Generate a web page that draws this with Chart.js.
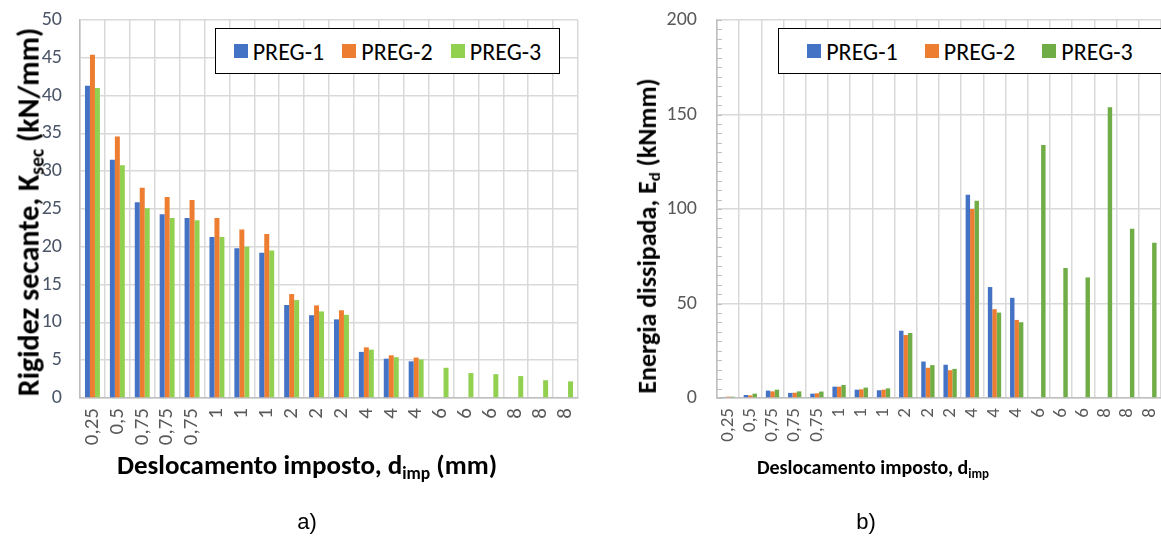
<!DOCTYPE html>
<html>
<head>
<meta charset="utf-8">
<script src="https://cdn.jsdelivr.net/npm/chart.js@4"></script>
<style>
  html, body { margin: 0; padding: 0; background: #fff; }
  #wrap { position: relative; width: 1161px; height: 537px; overflow: hidden; background: #fff; }
  canvas { position: absolute; top: 0; }
  .ttl { position: absolute; font-family: Carlito, Calibri, Lato, sans-serif; font-weight: bold; color: #000; white-space: nowrap; }
  .ttl sub { font-size: 65%; vertical-align: -0.25em; }
  .rot { transform: translate(-50%, -50%) rotate(-90deg); }
  .hor { transform: translate(-50%, -50%); }
  .cap { position: absolute; font-family: "Liberation Sans", Arial, sans-serif; font-size: 22px; color: #000; transform: translate(-50%, -50%); }
  .legend { position: absolute; background: #fff; border: 1.5px solid #000; box-sizing: border-box;
            display: flex; align-items: center; justify-content: center;
            font-family: Carlito, Calibri, Lato, sans-serif; font-size: 24px; color: #000; }
  .legend .item { display: flex; align-items: center; gap: 5px; }
  .legend .sw { width: 14px; height: 14px; display: inline-block; }
</style>
</head>
<body>
<div id="wrap">
  <canvas id="ksec" width="600" height="537" style="left:0;width:600px;height:537px"></canvas>
  <canvas id="ed" width="581" height="537" style="left:600px;width:581px;height:537px"></canvas>

  <div class="ttl rot" style="left:29px;top:212px;font-size:30px">Rigidez secante, K<sub>sec</sub> (kN/mm)</div>
  <div class="ttl hor" style="left:307px;top:466px;font-size:27px">Deslocamento imposto, d<sub>imp</sub> (mm)</div>
  <div class="cap" style="left:307px;top:522px">a)</div>

  <div class="ttl rot" style="left:648px;top:236px;font-size:26px">Energia dissipada, E<sub>d</sub> (kNmm)</div>
  <div class="ttl hor" style="left:873px;top:468px;font-size:20px">Deslocamento imposto, d<sub>imp</sub></div>
  <div class="cap" style="left:866px;top:522px">b)</div>

  <div id="legKsec" class="legend" style="left:215px;top:28px;width:345px;height:46px;gap:18px"></div>
  <div id="legEd" class="legend" style="left:778px;top:28px;width:384px;height:46px;gap:27px"></div>
</div>

<script>
// Imposed displacement steps (mm), three cycles per level after 0,5
const displacements = ['0,25', '0,5', '0,75', '0,75', '0,75', '1', '1', '1', '2', '2', '2',
                       '4', '4', '4', '6', '6', '6', '8', '8', '8'];
const seriesNames = ['PREG-1', 'PREG-2', 'PREG-3'];

// Secant stiffness K_sec (kN/mm)
const ksecPreg1 = [41.3, 31.5, 25.9, 24.3, 23.8, 21.3, 19.8, 19.2, 12.3, 10.95, 10.4, 6.1, 5.2, 4.85,
                   null, null, null, null, null, null];
const ksecPreg2 = [45.4, 34.6, 27.8, 26.6, 26.2, 23.8, 22.3, 21.7, 13.75, 12.25, 11.6, 6.7, 5.65, 5.35,
                   null, null, null, null, null, null];
const ksecPreg3 = [41.0, 30.8, 25.1, 23.8, 23.5, 21.3, 20.0, 19.5, 12.95, 11.45, 11.0, 6.4, 5.4, 5.1,
                   4.0, 3.3, 3.15, 2.9, 2.35, 2.2];

// Dissipated energy E_d (kNmm)
const edPreg1 = [0.3, 1.6, 3.9, 2.7, 2.3, 6.0, 4.4, 4.1, 35.6, 19.3, 17.6, 107.5, 58.7, 53.0,
                 null, null, null, null, null, null];
const edPreg2 = [0.7, 1.4, 3.5, 2.8, 2.5, 6.0, 4.6, 4.4, 33.3, 16.0, 14.7, 100.0, 47.0, 41.3,
                 null, null, null, null, null, null];
const edPreg3 = [0.7, 2.3, 4.4, 3.5, 3.4, 6.9, 5.5, 5.1, 34.4, 17.4, 15.4, 104.4, 45.2, 40.1,
                 133.9, 68.8, 63.8, 153.9, 89.6, 82.1];

const ksecColors = ['#4472C4', '#ED7D31', '#92D050'];
const edColors = ['#4472C4', '#ED7D31', '#70AD47'];

const FONT = 'Carlito, Calibri, Lato, sans-serif';
const GRID = '#d9d9d9';
const AXIS = '#bfbfbf';

function datasets(values, colors) {
  return values.map((v, i) => ({
    label: seriesNames[i],
    data: v,
    backgroundColor: colors[i],
    borderWidth: 0,
    categoryPercentage: 0.6,
    barPercentage: 1.0
  }));
}

// Short inside tick marks on the value axis (every 5 kNmm)
const minorTicks = {
  id: 'minorTicks',
  afterDatasetsDraw(chart, args, opts) {
    if (!opts || !opts.step) return;
    const y = chart.scales.y;
    const ctx = chart.ctx;
    ctx.save();
    ctx.strokeStyle = AXIS;
    ctx.lineWidth = 1;
    for (let v = y.min; v <= y.max + 1e-9; v += opts.step) {
      const py = Math.round(y.getPixelForValue(v)) + 0.5;
      ctx.beginPath();
      ctx.moveTo(chart.chartArea.left, py);
      ctx.lineTo(chart.chartArea.left + 5, py);
      ctx.stroke();
    }
    ctx.restore();
  }
};

function makeChart(id, values, colors, o) {
  return new Chart(document.getElementById(id), {
    type: 'bar',
    data: { labels: displacements, datasets: datasets(values, colors) },
    plugins: [minorTicks],
    options: {
      responsive: false,
      animation: false,
      devicePixelRatio: 1,
      layout: { padding: { top: 20, right: o.padRight, left: 0, bottom: 0 } },
      plugins: {
        legend: { display: false },
        tooltip: { enabled: false },
        minorTicks: { step: o.minorStep }
      },
      scales: {
        x: {
          grid: { color: GRID, lineWidth: 1.5, offset: true, drawTicks: true, tickLength: 10, tickColor: 'rgba(0,0,0,0)' },
          border: { color: AXIS, width: 1.5 },
          ticks: { color: '#595959', font: { family: FONT, size: o.xFont }, minRotation: 90, maxRotation: 90,
                   autoSkip: false, padding: 0 },
          afterFit(s) { s.height = 139; }
        },
        y: {
          min: 0, max: o.yMax,
          grid: { color: GRID, lineWidth: 1.5, drawTicks: true, tickLength: o.yPad, tickColor: 'rgba(0,0,0,0)' },
          border: { color: AXIS, width: 1.5 },
          ticks: { stepSize: o.yStep, color: o.tickColor, font: { family: FONT, size: o.yFont }, padding: 0 },
          afterFit(s) { s.width = o.yWidth; }
        }
      }
    }
  });
}

const chartK = makeChart('ksec', [ksecPreg1, ksecPreg2, ksecPreg3], ksecColors,
  { yMax: 50, yStep: 5, yWidth: 80, padRight: 22, tickColor: '#4a5568', minorStep: 0, xFont: 21, yFont: 20, yPad: 18 });
const chartE = makeChart('ed', [edPreg1, edPreg2, edPreg3], edColors,
  { yMax: 200, yStep: 50, yWidth: 117, padRight: 20, tickColor: '#595959', minorStep: 5, xFont: 19, yFont: 20, yPad: 20 });

// Boxed legends built from each chart's datasets
function buildLegend(el, chart) {
  chart.data.datasets.forEach(ds => {
    const item = document.createElement('span');
    item.className = 'item';
    const sw = document.createElement('span');
    sw.className = 'sw';
    sw.style.background = ds.backgroundColor;
    const t = document.createElement('span');
    t.textContent = ds.label;
    item.appendChild(sw);
    item.appendChild(t);
    el.appendChild(item);
  });
}
buildLegend(document.getElementById('legKsec'), chartK);
buildLegend(document.getElementById('legEd'), chartE);
</script>
</body>
</html>
